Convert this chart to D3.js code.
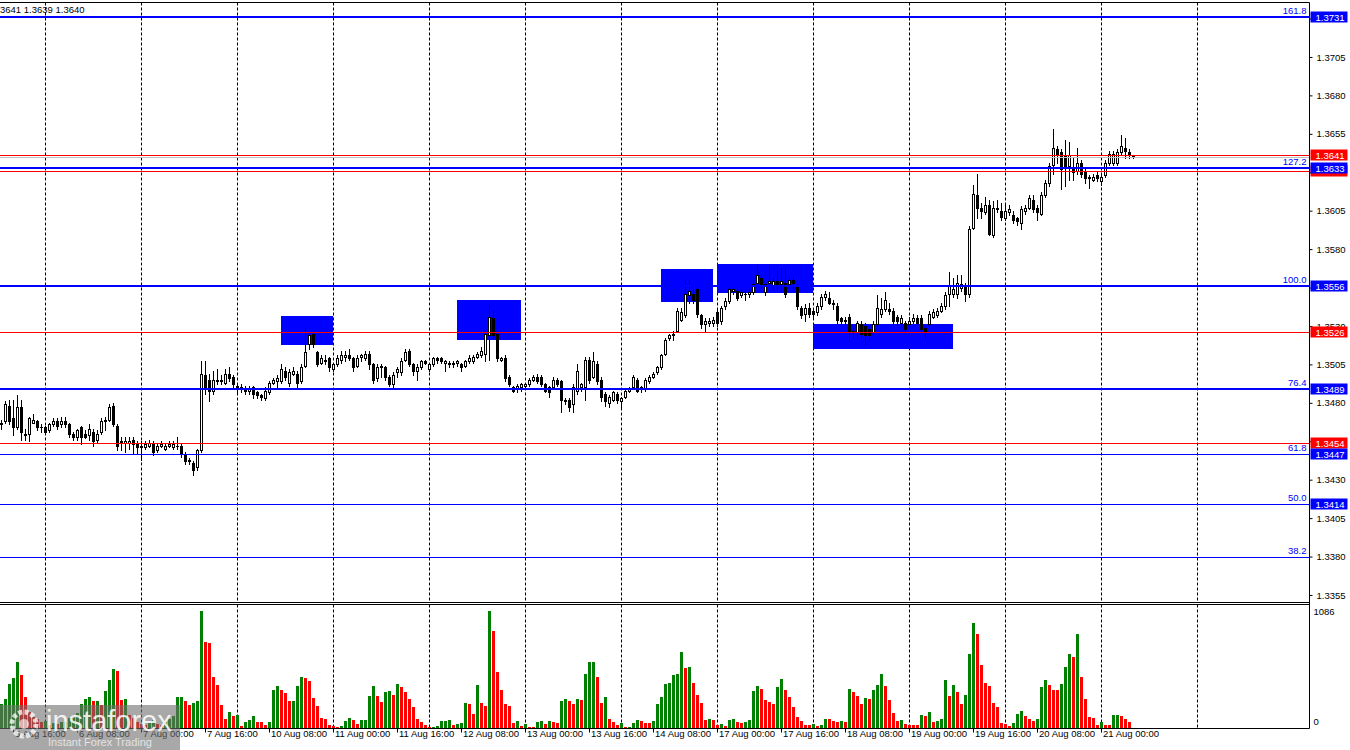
<!DOCTYPE html>
<html><head><meta charset="utf-8">
<script src="https://cdn.jsdelivr.net/npm/d3@7/dist/d3.min.js"></script>
<style>
body{margin:0;background:#fff;overflow:hidden;}
svg text{font-family:"Liberation Sans",Arial,sans-serif;}
</style>
</head><body>
<svg id="chart" width="1350" height="750"></svg>
<script>
// ---------- DATA (GBPUSD H1, 5 Aug 13:00 -> 21 Aug 08:00) ----------
const openP = [
1.3466,1.3468,1.3478,1.3470,1.3464,1.3477,1.3460,1.3460,1.3467,1.3468,
1.3464,1.3464,1.3462,1.3466,1.3468,1.3466,1.3468,1.3466,1.3460,1.3458,
1.3464,1.3460,1.3459,1.3461,1.3456,1.3461,1.3468,1.3469,1.3478,1.3465,
1.3455,1.3454,1.3454,1.3456,1.3453,1.3451,1.3451,1.3452,1.3453,1.3449,
1.3452,1.3450,1.3452,1.3451,1.3452,1.3452,1.3447,1.3443,1.3441,1.3438,
1.3449,1.3498,1.3495,1.3488,1.3494,1.3495,1.3493,1.3499,1.3497,1.3491,
1.3490,1.3489,1.3488,1.3490,1.3487,1.3485,1.3483,1.3487,1.3493,1.3494,
1.3494,1.3501,1.3493,1.3499,1.3499,1.3494,1.3504,1.3518,1.3525,1.3513,
1.3506,1.3508,1.3509,1.3502,1.3505,1.3508,1.3510,1.3511,1.3509,1.3504,
1.3510,1.3509,1.3512,1.3505,1.3496,1.3503,1.3503,1.3497,1.3492,1.3500,
1.3500,1.3508,1.3514,1.3505,1.3501,1.3503,1.3507,1.3502,1.3505,1.3509,
1.3509,1.3506,1.3505,1.3505,1.3506,1.3505,1.3504,1.3507,1.3507,1.3510,
1.3511,1.3512,1.3524,1.3535,1.3525,1.3508,1.3509,1.3497,1.3490,1.3489,
1.3490,1.3491,1.3492,1.3495,1.3497,1.3497,1.3492,1.3490,1.3490,1.3495,
1.3494,1.3482,1.3482,1.3479,1.3488,1.3490,1.3490,1.3508,1.3497,1.3505,
1.3495,1.3486,1.3480,1.3482,1.3486,1.3481,1.3484,1.3488,1.3490,1.3495,
1.3489,1.3489,1.3494,1.3497,1.3500,1.3503,1.3512,1.3522,1.3524,1.3527,
1.3534,1.3537,1.3550,1.3551,1.3554,1.3537,1.3531,1.3532,1.3532,1.3539,
1.3533,1.3543,1.3546,1.3553,1.3553,1.3550,1.3551,1.3551,1.3552,1.3558,
1.3561,1.3552,1.3558,1.3556,1.3559,1.3557,1.3558,1.3557,1.3560,1.3556,
1.3542,1.3538,1.3542,1.3540,1.3539,1.3543,1.3549,1.3548,1.3545,1.3543,
1.3535,1.3533,1.3536,1.3527,1.3526,1.3531,1.3530,1.3528,1.3526,1.3531,
1.3538,1.3541,1.3541,1.3540,1.3536,1.3532,1.3532,1.3531,1.3533,1.3535,
1.3535,1.3529,1.3531,1.3536,1.3537,1.3540,1.3543,1.3551,1.3551,1.3551,
1.3555,1.3556,1.3551,1.3594,1.3615,1.3607,1.3604,1.3609,1.3589,1.3607,
1.3605,1.3600,1.3604,1.3602,1.3600,1.3597,1.3605,1.3607,1.3612,1.3607,
1.3603,1.3615,1.3623,1.3635,1.3645,1.3643,1.3641,1.3634,1.3633,1.3631,
1.3636,1.3630,1.3627,1.3625,1.3628,1.3624,1.3628,1.3636,1.3636,1.3636,
1.3643,1.3646,1.3643,1.3641];
const highP = [
1.3469,1.3481,1.3482,1.3482,1.3485,1.3482,1.3463,1.3471,1.3473,1.3469,
1.3466,1.3465,1.3467,1.3470,1.3470,1.3471,1.3471,1.3467,1.3461,1.3463,
1.3465,1.3462,1.3466,1.3463,1.3462,1.3470,1.3471,1.3479,1.3480,1.3466,
1.3458,1.3458,1.3458,1.3458,1.3455,1.3455,1.3455,1.3456,1.3455,1.3454,
1.3455,1.3454,1.3455,1.3455,1.3458,1.3454,1.3448,1.3444,1.3442,1.3450,
1.3507,1.3507,1.3499,1.3501,1.3502,1.3498,1.3502,1.3503,1.3498,1.3493,
1.3492,1.3491,1.3491,1.3491,1.3488,1.3486,1.3490,1.3494,1.3496,1.3498,
1.3505,1.3503,1.3502,1.3503,1.3501,1.3505,1.3529,1.3526,1.3526,1.3514,
1.3511,1.3511,1.3510,1.3506,1.3511,1.3514,1.3514,1.3515,1.3510,1.3511,
1.3512,1.3514,1.3514,1.3506,1.3505,1.3505,1.3504,1.3498,1.3500,1.3503,
1.3509,1.3515,1.3515,1.3506,1.3505,1.3508,1.3508,1.3506,1.3510,1.3510,
1.3510,1.3508,1.3507,1.3507,1.3508,1.3506,1.3508,1.3511,1.3511,1.3513,
1.3516,1.3527,1.3544,1.3540,1.3527,1.3510,1.3511,1.3498,1.3491,1.3492,
1.3493,1.3493,1.3496,1.3498,1.3499,1.3498,1.3493,1.3491,1.3497,1.3496,
1.3495,1.3483,1.3483,1.3492,1.3505,1.3493,1.3510,1.3510,1.3513,1.3507,
1.3497,1.3487,1.3485,1.3488,1.3487,1.3484,1.3489,1.3490,1.3498,1.3496,
1.3491,1.3496,1.3498,1.3500,1.3504,1.3512,1.3522,1.3525,1.3527,1.3542,
1.3542,1.3560,1.3560,1.3554,1.3555,1.3538,1.3535,1.3535,1.3536,1.3541,
1.3543,1.3548,1.3555,1.3555,1.3555,1.3554,1.3553,1.3554,1.3559,1.3570,
1.3563,1.3558,1.3570,1.3561,1.3566,1.3568,1.3567,1.3562,1.3562,1.3557,
1.3543,1.3544,1.3545,1.3542,1.3545,1.3551,1.3553,1.3552,1.3547,1.3545,
1.3536,1.3536,1.3538,1.3529,1.3533,1.3533,1.3532,1.3530,1.3533,1.3550,
1.3548,1.3552,1.3545,1.3542,1.3537,1.3537,1.3533,1.3536,1.3538,1.3537,
1.3537,1.3530,1.3540,1.3541,1.3542,1.3545,1.3552,1.3565,1.3561,1.3563,
1.3563,1.3558,1.3595,1.3622,1.3629,1.3610,1.3614,1.3612,1.3611,1.3612,
1.3610,1.3609,1.3609,1.3605,1.3601,1.3608,1.3609,1.3615,1.3615,1.3609,
1.3617,1.3625,1.3636,1.3658,1.3647,1.3645,1.3651,1.3650,1.3639,1.3646,
1.3638,1.3632,1.3628,1.3629,1.3631,1.3629,1.3638,1.3644,1.3644,1.3645,
1.3654,1.3652,1.3645,1.3641];
const lowP = [
1.3463,1.3467,1.3466,1.3459,1.3463,1.3456,1.3456,1.3455,1.3467,1.3462,
1.3461,1.3460,1.3461,1.3465,1.3463,1.3464,1.3464,1.3458,1.3456,1.3456,
1.3453,1.3457,1.3456,1.3452,1.3454,1.3460,1.3462,1.3468,1.3465,1.3449,
1.3449,1.3448,1.3450,1.3447,1.3447,1.3443,1.3450,1.3451,1.3446,1.3448,
1.3451,1.3449,1.3451,1.3450,1.3450,1.3445,1.3440,1.3440,1.3433,1.3436,
1.3448,1.3486,1.3481,1.3486,1.3492,1.3492,1.3492,1.3494,1.3489,1.3486,
1.3487,1.3486,1.3486,1.3483,1.3483,1.3482,1.3482,1.3486,1.3492,1.3489,
1.3493,1.3495,1.3491,1.3498,1.3489,1.3493,1.3503,1.3515,1.3516,1.3504,
1.3505,1.3505,1.3501,1.3501,1.3504,1.3506,1.3507,1.3508,1.3501,1.3503,
1.3507,1.3508,1.3502,1.3493,1.3494,1.3497,1.3495,1.3491,1.3490,1.3497,
1.3498,1.3507,1.3504,1.3498,1.3495,1.3502,1.3505,1.3501,1.3504,1.3506,
1.3506,1.3501,1.3503,1.3503,1.3504,1.3501,1.3503,1.3506,1.3506,1.3509,
1.3510,1.3507,1.3508,1.3522,1.3507,1.3507,1.3494,1.3491,1.3487,1.3487,
1.3488,1.3489,1.3491,1.3494,1.3493,1.3491,1.3487,1.3484,1.3489,1.3491,
1.3474,1.3479,1.3475,1.3474,1.3486,1.3488,1.3482,1.3493,1.3496,1.3492,
1.3481,1.3478,1.3477,1.3481,1.3480,1.3477,1.3483,1.3487,1.3489,1.3487,
1.3487,1.3488,1.3493,1.3496,1.3499,1.3502,1.3511,1.3521,1.3521,1.3526,
1.3533,1.3536,1.3545,1.3545,1.3536,1.3529,1.3526,1.3530,1.3530,1.3530,
1.3531,1.3541,1.3545,1.3551,1.3547,1.3549,1.3547,1.3549,1.3551,1.3556,
1.3555,1.3550,1.3556,1.3554,1.3554,1.3553,1.3549,1.3555,1.3555,1.3541,
1.3535,1.3533,1.3536,1.3535,1.3537,1.3541,1.3547,1.3544,1.3541,1.3532,
1.3531,1.3531,1.3520,1.3522,1.3522,1.3523,1.3518,1.3521,1.3524,1.3530,
1.3536,1.3540,1.3538,1.3531,1.3531,1.3530,1.3526,1.3529,1.3532,1.3531,
1.3526,1.3522,1.3530,1.3535,1.3536,1.3539,1.3541,1.3543,1.3549,1.3548,
1.3553,1.3546,1.3549,1.3593,1.3600,1.3600,1.3603,1.3589,1.3588,1.3604,
1.3599,1.3599,1.3602,1.3597,1.3596,1.3593,1.3603,1.3606,1.3604,1.3599,
1.3602,1.3614,1.3621,1.3629,1.3636,1.3619,1.3621,1.3625,1.3625,1.3629,
1.3627,1.3623,1.3620,1.3624,1.3624,1.3622,1.3627,1.3635,1.3635,1.3635,
1.3641,1.3639,1.3639,1.3639];
const closeP = [
1.3467,1.3479,1.3468,1.3464,1.3477,1.3461,1.3459,1.3470,1.3469,1.3464,
1.3464,1.3461,1.3466,1.3468,1.3465,1.3468,1.3466,1.3460,1.3458,1.3462,
1.3458,1.3458,1.3463,1.3455,1.3460,1.3468,1.3469,1.3477,1.3466,1.3452,
1.3454,1.3455,1.3455,1.3453,1.3451,1.3452,1.3453,1.3454,1.3448,1.3452,
1.3453,1.3452,1.3453,1.3453,1.3452,1.3447,1.3442,1.3442,1.3436,1.3449,
1.3499,1.3490,1.3488,1.3495,1.3495,1.3494,1.3499,1.3496,1.3492,1.3489,
1.3489,1.3488,1.3489,1.3486,1.3485,1.3484,1.3488,1.3493,1.3495,1.3496,
1.3502,1.3497,1.3500,1.3501,1.3493,1.3503,1.3513,1.3524,1.3518,1.3505,
1.3509,1.3507,1.3503,1.3505,1.3509,1.3511,1.3511,1.3509,1.3503,1.3509,
1.3511,1.3512,1.3505,1.3495,1.3503,1.3504,1.3497,1.3492,1.3498,1.3502,
1.3507,1.3513,1.3505,1.3501,1.3503,1.3507,1.3506,1.3505,1.3509,1.3508,
1.3507,1.3507,1.3506,1.3506,1.3507,1.3503,1.3507,1.3509,1.3510,1.3512,
1.3514,1.3525,1.3536,1.3524,1.3509,1.3509,1.3496,1.3492,1.3488,1.3491,
1.3492,1.3492,1.3495,1.3497,1.3494,1.3492,1.3488,1.3487,1.3495,1.3492,
1.3482,1.3481,1.3477,1.3490,1.3501,1.3492,1.3508,1.3495,1.3507,1.3494,
1.3484,1.3481,1.3484,1.3487,1.3482,1.3483,1.3488,1.3489,1.3497,1.3488,
1.3490,1.3495,1.3497,1.3499,1.3503,1.3511,1.3521,1.3524,1.3525,1.3540,
1.3539,1.3551,1.3553,1.3547,1.3538,1.3531,1.3533,1.3533,1.3534,1.3532,
1.3542,1.3546,1.3554,1.3554,1.3548,1.3552,1.3551,1.3552,1.3557,1.3563,
1.3557,1.3557,1.3559,1.3559,1.3557,1.3559,1.3551,1.3560,1.3558,1.3543,
1.3537,1.3542,1.3538,1.3538,1.3543,1.3549,1.3551,1.3545,1.3544,1.3534,
1.3533,1.3534,1.3526,1.3526,1.3532,1.3525,1.3524,1.3524,1.3531,1.3542,
1.3541,1.3547,1.3540,1.3533,1.3533,1.3535,1.3528,1.3533,1.3535,1.3532,
1.3528,1.3527,1.3538,1.3539,1.3540,1.3543,1.3550,1.3556,1.3554,1.3558,
1.3557,1.3551,1.3593,1.3616,1.3607,1.3605,1.3609,1.3590,1.3607,1.3606,
1.3601,1.3605,1.3606,1.3599,1.3598,1.3606,1.3607,1.3613,1.3606,1.3604,
1.3615,1.3623,1.3634,1.3646,1.3642,1.3632,1.3634,1.3641,1.3630,1.3636,
1.3629,1.3626,1.3626,1.3627,1.3626,1.3627,1.3636,1.3642,1.3642,1.3643,
1.3647,1.3644,1.3641,1.3640];
const volumes = [
226,273,412,468,617,496,291,150,100,80,
60,62,31,45,40,55,60,90,110,140,
220,265,290,250,255,215,340,450,545,530,
260,270,120,90,60,40,30,45,70,40,
30,55,80,110,285,290,248,217,235,250,
1086,797,790,477,403,217,84,152,115,124,
22,53,78,115,59,59,31,59,357,388,
350,326,248,254,388,470,460,434,279,208,
90,88,31,22,12,22,62,90,71,40,
71,78,295,394,301,239,335,341,310,412,
378,332,273,192,87,59,31,6,12,22,
68,69,70,31,40,50,232,223,133,403,
232,208,1082,896,524,357,226,208,50,68,
22,40,9,6,59,68,40,68,59,50,
254,273,248,226,273,264,505,608,614,477,
236,291,87,59,31,50,10,12,50,78,
68,50,50,68,226,291,412,422,496,505,
710,561,570,422,310,236,78,87,78,31,
40,22,78,87,59,50,59,78,347,394,
366,264,245,226,384,459,357,291,198,105,
68,31,31,40,22,24,87,87,68,59,
68,59,366,338,301,226,282,273,357,403,
505,394,264,143,68,78,40,31,31,31,
124,115,152,59,68,87,450,301,403,338,
226,310,691,970,868,589,422,394,236,198,
50,40,22,50,133,161,115,87,68,87,
384,450,403,357,357,412,570,691,663,877,
477,267,105,93,31,59,31,30,124,125,
115,87,59,3];

const priceTicks = [1.3355,1.3380,1.3405,1.3430,1.3455,1.3480,1.3505,1.3530,1.3555,1.3580,1.3605,1.3630,1.3655,1.3680,1.3705,1.3730];
const fibLevels = [1.3731,1.3633,1.3556,1.3489,1.3447,1.3414,1.3380];
const fibNames  = ["161.8","127.2","100.0","76.4","61.8","50.0","38.2"];
const fibBoxed  = [true,true,true,true,true,true,false];
const fibThick  = [true,true,true,true,false,false,false];
const redLevels = [1.3641,1.3631,1.3526,1.3454];
const redLabelShown = [true,false,true,true];
const bidPrice = 1.3640;
const zoneStart = [70,114,165,179,203];
const zoneEnd   = [83,130,178,203,238];
const zoneTop   = [1.35365,1.35469,1.35671,1.35703,1.35313];
const zoneBottom= [1.35176,1.35209,1.35456,1.35515,1.35150];
const gridIdx = [11,35,59,83,107,131,155,179,203,227,251,275,299];
const labelIdx = [3,19,35,51,67,83,99,115,131,147,163,179,195,211,227,243,259,275];
const labelText = ["5 Aug 16:00","6 Aug 08:00","7 Aug 00:00","7 Aug 16:00","10 Aug 08:00","11 Aug 00:00","11 Aug 16:00","12 Aug 08:00","13 Aug 00:00","13 Aug 16:00","14 Aug 08:00","17 Aug 00:00","17 Aug 16:00","18 Aug 08:00","19 Aug 00:00","19 Aug 16:00","20 Aug 08:00","21 Aug 00:00"];
const headerText = "3641 1.3639 1.3640";

// ---------- LAYOUT ----------
const svg = d3.select("#chart");
const axisX = 1309.5;
const mainTop = 2.5, mainBottom = 602.5, volTop = 604.5, volBottom = 728;
const FS = "9.5px";

const x = d3.scaleLinear().domain([0, 1]).range([1.5, 5.5]);
const y = d3.scaleLinear().domain([1.3556, 1.3731]).range([286, 17]);
const vy = d3.scaleLinear().domain([0, d3.max(volumes)]).range([volBottom, 611]);
const py = p => Math.round(y(p)) + 0.5;

const candles = openP.map((o, i) => ({i, o, h: highP[i], l: lowP[i], c: closeP[i], v: volumes[i]}));

svg.append("defs").append("clipPath").attr("id","mainClip")
  .append("rect").attr("x",0).attr("y",mainTop).attr("width",axisX).attr("height",mainBottom-mainTop);
svg.select("defs").append("clipPath").attr("id","volClip")
  .append("rect").attr("x",0).attr("y",volTop).attr("width",axisX).attr("height",volBottom-volTop);

// grid (dashed verticals) in both panels
const grid = svg.append("g");
gridIdx.forEach(g => {
  const gx = Math.floor(x(g)) + 0.5;
  grid.append("line").attr("x1",gx).attr("x2",gx).attr("y1",mainTop).attr("y2",mainBottom)
    .attr("stroke","#000").attr("stroke-width",1).attr("stroke-dasharray","3,2");
  grid.append("line").attr("x1",gx).attr("x2",gx).attr("y1",volTop).attr("y2",volBottom)
    .attr("stroke","#000").attr("stroke-width",1).attr("stroke-dasharray","3,2");
});

const main = svg.append("g").attr("clip-path","url(#mainClip)");

// zones
zoneStart.forEach((s, k) => {
  const x0 = Math.round(x(s) - 0.5), x1 = Math.round(x(zoneEnd[k]) - 0.5);
  const y0 = Math.round(y(zoneTop[k])), y1 = Math.round(y(zoneBottom[k]));
  main.append("rect").attr("x",x0).attr("y",y0).attr("width",x1-x0).attr("height",y1-y0).attr("fill","#0000ff");
});

// candles
const cg = main.append("g");
candles.forEach(d => {
  const cx = x(d.i);
  const hi = Math.max(d.h, d.o, d.c), lo = Math.min(d.l, d.o, d.c);
  cg.append("line").attr("x1",cx).attr("x2",cx).attr("y1",Math.round(y(hi))).attr("y2",Math.round(y(lo))+1)
    .attr("stroke","#000").attr("stroke-width",1);
  const yo = py(d.o), yc = py(d.c);
  if (yo === yc) {
    cg.append("line").attr("x1",cx-1.5).attr("x2",cx+1.5).attr("y1",yo).attr("y2",yo).attr("stroke","#000");
  } else {
    const top = Math.min(yo,yc), bot = Math.max(yo,yc);
    cg.append("rect").attr("x",cx-1).attr("y",top).attr("width",2).attr("height",bot-top)
      .attr("fill", d.c > d.o ? "#fff" : "#000").attr("stroke","#000").attr("stroke-width",1);
  }
});

// horizontal levels
const lg = main.append("g");
lg.append("line").attr("x1",0).attr("x2",axisX).attr("y1",py(bidPrice)).attr("y2",py(bidPrice))
  .attr("stroke","#c0c0c0").attr("stroke-width",1);
redLevels.forEach(p => {
  lg.append("line").attr("x1",0).attr("x2",axisX).attr("y1",py(p)).attr("y2",py(p)).attr("stroke","#ff0000").attr("stroke-width",1);
});
fibLevels.forEach((p, k) => {
  const yy = fibThick[k] ? Math.round(y(p)) : py(p);
  lg.append("line").attr("x1",0).attr("x2",axisX).attr("y1",yy).attr("y2",yy)
    .attr("stroke","#0000ff").attr("stroke-width",fibThick[k] ? 2 : 1);
  svg.append("text").attr("x",axisX-3).attr("y",Math.round(y(p))-3).attr("text-anchor","end")
    .attr("fill","#0000ff").style("font-size",FS).text(fibNames[k]);
});

// volumes (MT4 rule: green when volume rises vs previous bar)
const vg = svg.append("g").attr("clip-path","url(#volClip)");
candles.forEach((d, k) => {
  const prev = k > 0 ? volumes[k-1] : 0;
  const top = Math.round(vy(d.v));
  vg.append("rect").attr("x",x(d.i)-1.5).attr("y",top).attr("width",3).attr("height",Math.max(volBottom-top,1))
    .attr("fill", d.v > prev ? "#008000" : "#ff0000");
});

// frame lines
const fr = svg.append("g").attr("stroke","#000").attr("stroke-width",1);
fr.append("line").attr("x1",0).attr("x2",axisX).attr("y1",mainTop).attr("y2",mainTop);
fr.append("line").attr("x1",0).attr("x2",axisX).attr("y1",mainBottom).attr("y2",mainBottom);
fr.append("line").attr("x1",0).attr("x2",axisX).attr("y1",volTop).attr("y2",volTop);
fr.append("line").attr("x1",0).attr("x2",axisX).attr("y1",volBottom+0.5).attr("y2",volBottom+0.5);
fr.append("line").attr("x1",axisX).attr("x2",axisX).attr("y1",mainTop).attr("y2",volBottom+0.5);

// price axis: labels fully covered by a level box are not printed
const boxLevels = redLevels.concat(fibLevels.filter((p,k) => fibBoxed[k]));
const covered = t => boxLevels.some(b => Math.abs(y(b) - y(t)) < 5);
const pa = svg.append("g").attr("transform",`translate(${axisX},0)`)
  .call(d3.axisRight(y).tickValues(priceTicks).tickFormat(d => covered(d) ? "" : d3.format(".4f")(d)).tickSize(3).tickPadding(4));
pa.select(".domain").remove();
pa.selectAll("text").style("font-size",FS).style("font-family","Liberation Sans, Arial, sans-serif").attr("fill","#000");
pa.selectAll("line").attr("stroke","#000");

// volume axis labels
svg.append("text").attr("x",axisX+4).attr("y",vy(d3.max(volumes))+4).style("font-size",FS).text(d3.max(volumes));
svg.append("text").attr("x",axisX+4).attr("y",vy(0)-3).style("font-size",FS).text("0");

// price boxes on axis
function box(p, color, withText) {
  const yy = y(p);
  svg.append("rect").attr("x",axisX+1).attr("y",Math.round(yy)-5.5).attr("width",37).attr("height",11).attr("fill",color);
  if (withText)
    svg.append("text").attr("x",axisX+6).attr("y",Math.round(yy)+3.5).attr("fill","#fff").style("font-size",FS).text(d3.format(".4f")(p));
}
redLevels.forEach((p,k) => box(p, "#ff0000", redLabelShown[k]));
fibLevels.forEach((p, k) => { if (fibBoxed[k]) box(p, "#0000ff", true); });

// x axis
const xa = svg.append("g").attr("transform",`translate(0,${volBottom+0.5})`)
  .call(d3.axisBottom(x).tickValues(labelIdx).tickFormat((d,i) => labelText[i]).tickSize(4).tickPadding(4));
xa.select(".domain").remove();
xa.selectAll("line").attr("stroke","#000").attr("transform","translate(-0.5,0)");
xa.selectAll("text").attr("text-anchor","start").attr("dx","1").attr("dy","0.1em")
  .style("font-size",FS).style("font-family","Liberation Sans, Arial, sans-serif").attr("fill","#000");

// header
svg.append("text").attr("x",0).attr("y",13).style("font-size",FS).attr("fill","#000").text(headerText);

// watermark
const wm = svg.append("g");
wm.append("rect").attr("x",0).attr("y",705).attr("width",180).attr("height",45).attr("fill","#6e6e6e").attr("opacity",0.6);
wm.append("circle").attr("cx",24).attr("cy",724).attr("r",12).attr("fill","none").attr("stroke","#fff").attr("stroke-width",5).attr("stroke-dasharray","4,2.3").attr("opacity",0.75);
wm.append("circle").attr("cx",24).attr("cy",724).attr("r",5).attr("fill","#fff").attr("opacity",0.6);
wm.append("text").attr("x",46).attr("y",731).attr("fill","#fff").attr("opacity",0.85).style("font-size","29px").text("instaforex");
wm.append("text").attr("x",48).attr("y",746).attr("fill","#eee").attr("opacity",0.85).style("font-size","11px").text("Instant Forex Trading");
</script>
</body></html>
